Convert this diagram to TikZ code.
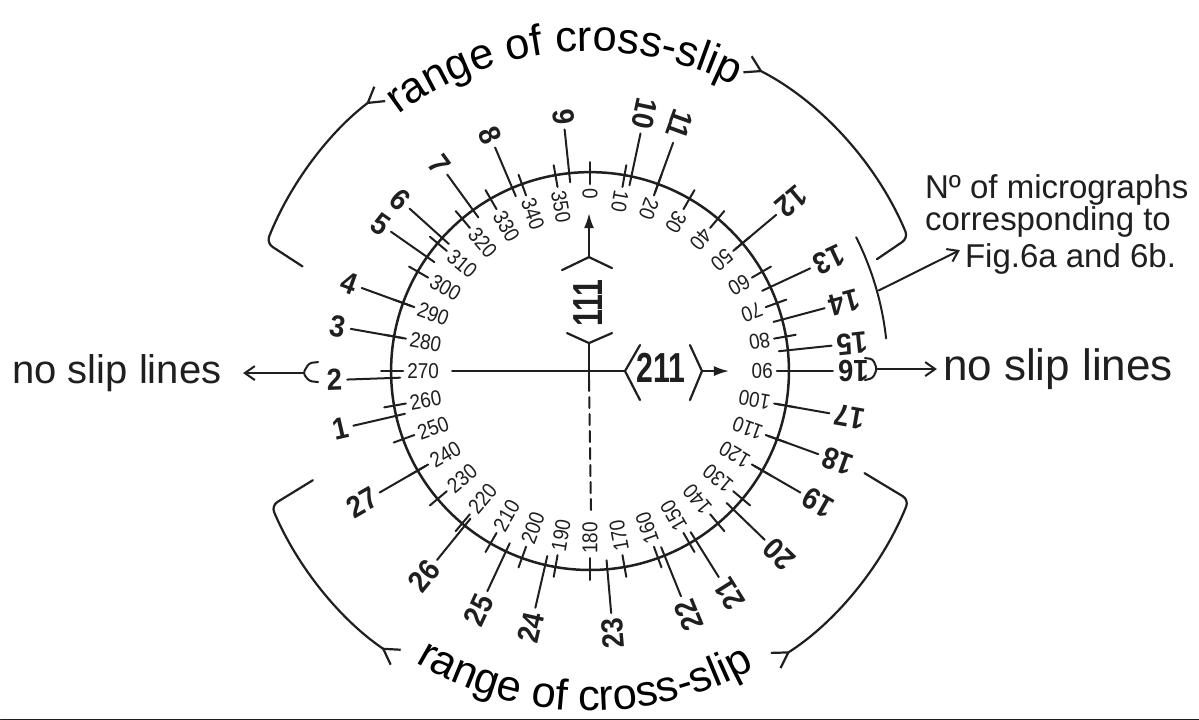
\documentclass[tikz,border=0pt]{standalone}
\usepackage{fontspec}
\setmainfont{Liberation Sans}
\newfontfamily\degf{Liberation Sans}[FakeStretch=0.88]
\newfontfamily\numf{Liberation Sans}[FakeStretch=0.9]
\newfontfamily\axf{Liberation Sans}[FakeStretch=0.72]
\usetikzlibrary{arrows.meta,decorations.text}
\newcommand{\rangef}{\fontsize{43.5}{43.5}\selectfont}
\begin{document}
\begin{tikzpicture}[x=1pt,y=1pt,line cap=round,line join=round,
  every path/.style={draw=black!88},
  circ/.style={line width=2.5pt},
  tickl/.style={line width=2pt},
  lead/.style={line width=2pt},
  deglab/.style={anchor=west,inner sep=0pt,text=black!88,font=\degf\fontsize{21.5}{21.5}\selectfont},
  numlab/.style={anchor=east,inner sep=0pt,text=black!88,font=\numf\bfseries\fontsize{30.5}{30.5}\selectfont},
  axlab/.style={inner sep=0pt,text=black!88,font=\axf\bfseries\fontsize{42}{42}\selectfont},
  brk/.style={line width=2.2pt,rounded corners=7pt},
  rbarb/.style={-{Straight Barb[reversed,length=15pt,width=18pt]}},
  txt/.style={inner sep=0pt,anchor=base west,text=black!88}]
\useasboundingbox (0,0) rectangle (1199,719);
\fill[white,draw=none] (0,0) rectangle (1199,719);
\begin{scope}[shift={(590,348)}]
  \coordinate (C) at (0,0);
  \draw[circ] (C) circle[radius=199];
  % degree scale
  \foreach \t in {0,10,...,350} {
    \draw[tickl] ({90-\t}:187) -- ({90-\t}:209);
    \node[deglab,rotate={270-\t}] (d\t) at ({90-\t}:183) {\t};
  }
  % micrograph numbers
  \foreach \n/\t in {1/257,2/268,3/280,4/290,5/305,6/312,7/324,8/337,9/354,
      10/12,11/20,12/50,13/65,14/75,15/84,16/90,17/100,18/110,19/120,20/134,
      21/148,22/158,23/175,24/193,25/205,26/219,27/240} {
    \draw[lead] ({90-\t}:190) -- ({90-\t}:243);
    \node[numlab,rotate={270-\t}] (m\n) at ({90-\t}:248) {\n};
  }
  % range of cross-slip brackets
  \draw[brk,rbarb] (160:306) -- (158.4:348) arc[start angle=158.4,end angle=127,radius=348];
  \draw[brk,rbarb] (21.3:308) -- (22.7:345) arc[start angle=22.7,end angle=63,radius=345];
  \draw[brk,rbarb] (-20.4:293) -- (-22:344) arc[start angle=-22,end angle=-57.5,radius=344];
  \draw[brk,rbarb] (201.5:298) -- (202.9:346) arc[start angle=202.9,end angle=236,radius=346];
  \path[draw=none,decorate,decoration={text along path,text={|\rangef|range of cross-slip},text align=center}]
    (134:320) arc[start angle=134,end angle=56,radius=320];
  \path[draw=none,decorate,decoration={text along path,text={|\rangef|range of cross-slip},text align=center}]
    (230:340) arc[start angle=230,end angle=308,radius=340];
  % bar for Fig. 6a/6b
  \draw[lead] (26.7:298) arc[start angle=26.7,end angle=6.3,radius=298];
  \coordinate (fb) at (15.6:300);
\end{scope}
% axes
\node[axlab] (a211) at (661,351) {211};
\node[axlab,rotate=90] (a111) at (588,416) {111};
\draw[brk,rounded corners=0pt] (640,374) -- (625,348) coordinate (l211) -- (640,319);
\draw[brk,rounded corners=0pt] (690,374) -- (702,348) coordinate (r211) -- (690,319);
\draw[brk,rounded corners=0pt] (562,449) -- (589,462) coordinate (t111) -- (612,451);
\draw[brk,rounded corners=0pt] (567,386) -- (589,376) coordinate (b111) -- (612,386);
\coordinate (h0) at (452,348);
\coordinate (up) at (589,506);
\coordinate (rt) at (729,348);
\coordinate (dn) at (591,209);
\coordinate (cc) at (589,339);
\draw[lead] (h0) -- (l211);
\draw[lead,-{Latex[length=15pt,width=10pt]}] (r211) -- (rt);
\draw[lead,-{Latex[length=15pt,width=10pt]}] (t111) -- (up);
\draw[lead] (b111) -- (cc);
\draw[lead,dash pattern=on 11pt off 6pt] (cc) -- (dn);
% no slip lines
\node[txt,font=\fontsize{40}{40}\selectfont] (nsl) at (12,336) {no slip lines};
\node[txt,font=\fontsize{44}{44}\selectfont] (nsr) at (943,339) {no slip lines};
\draw[lead,rounded corners=3pt] (318,357) -- (309,356) -- (303,346) coordinate (lb) -- (309,338) -- (318,337);
\draw[lead,rounded corners=3pt] (865,361) -- (873,360) -- (877,350) coordinate (rb) -- (873,341) -- (865,339);
\coordinate (la) at (243,346);
\coordinate (ra) at (937,350);
\draw[lead,-{Straight Barb[length=10pt,width=14pt]}] (lb) -- (la);
\draw[lead,-{Straight Barb[length=10pt,width=14pt]}] (rb) -- (ra);
% micrograph note
\node[txt,font=\fontsize{33}{33}\selectfont] (t1) at (925,521) {Nº of micrographs};
\node[txt,font=\fontsize{33}{33}\selectfont] (t2) at (925,489) {corresponding to};
\node[txt,font=\fontsize{33}{33}\selectfont] (t3) at (965,452) {Fig.6a and 6b.};
\coordinate (ft) at (960,469);
\draw[lead,-{Straight Barb[length=10pt,width=14pt]}] (fb) -- (ft);
\end{tikzpicture}
\end{document}
